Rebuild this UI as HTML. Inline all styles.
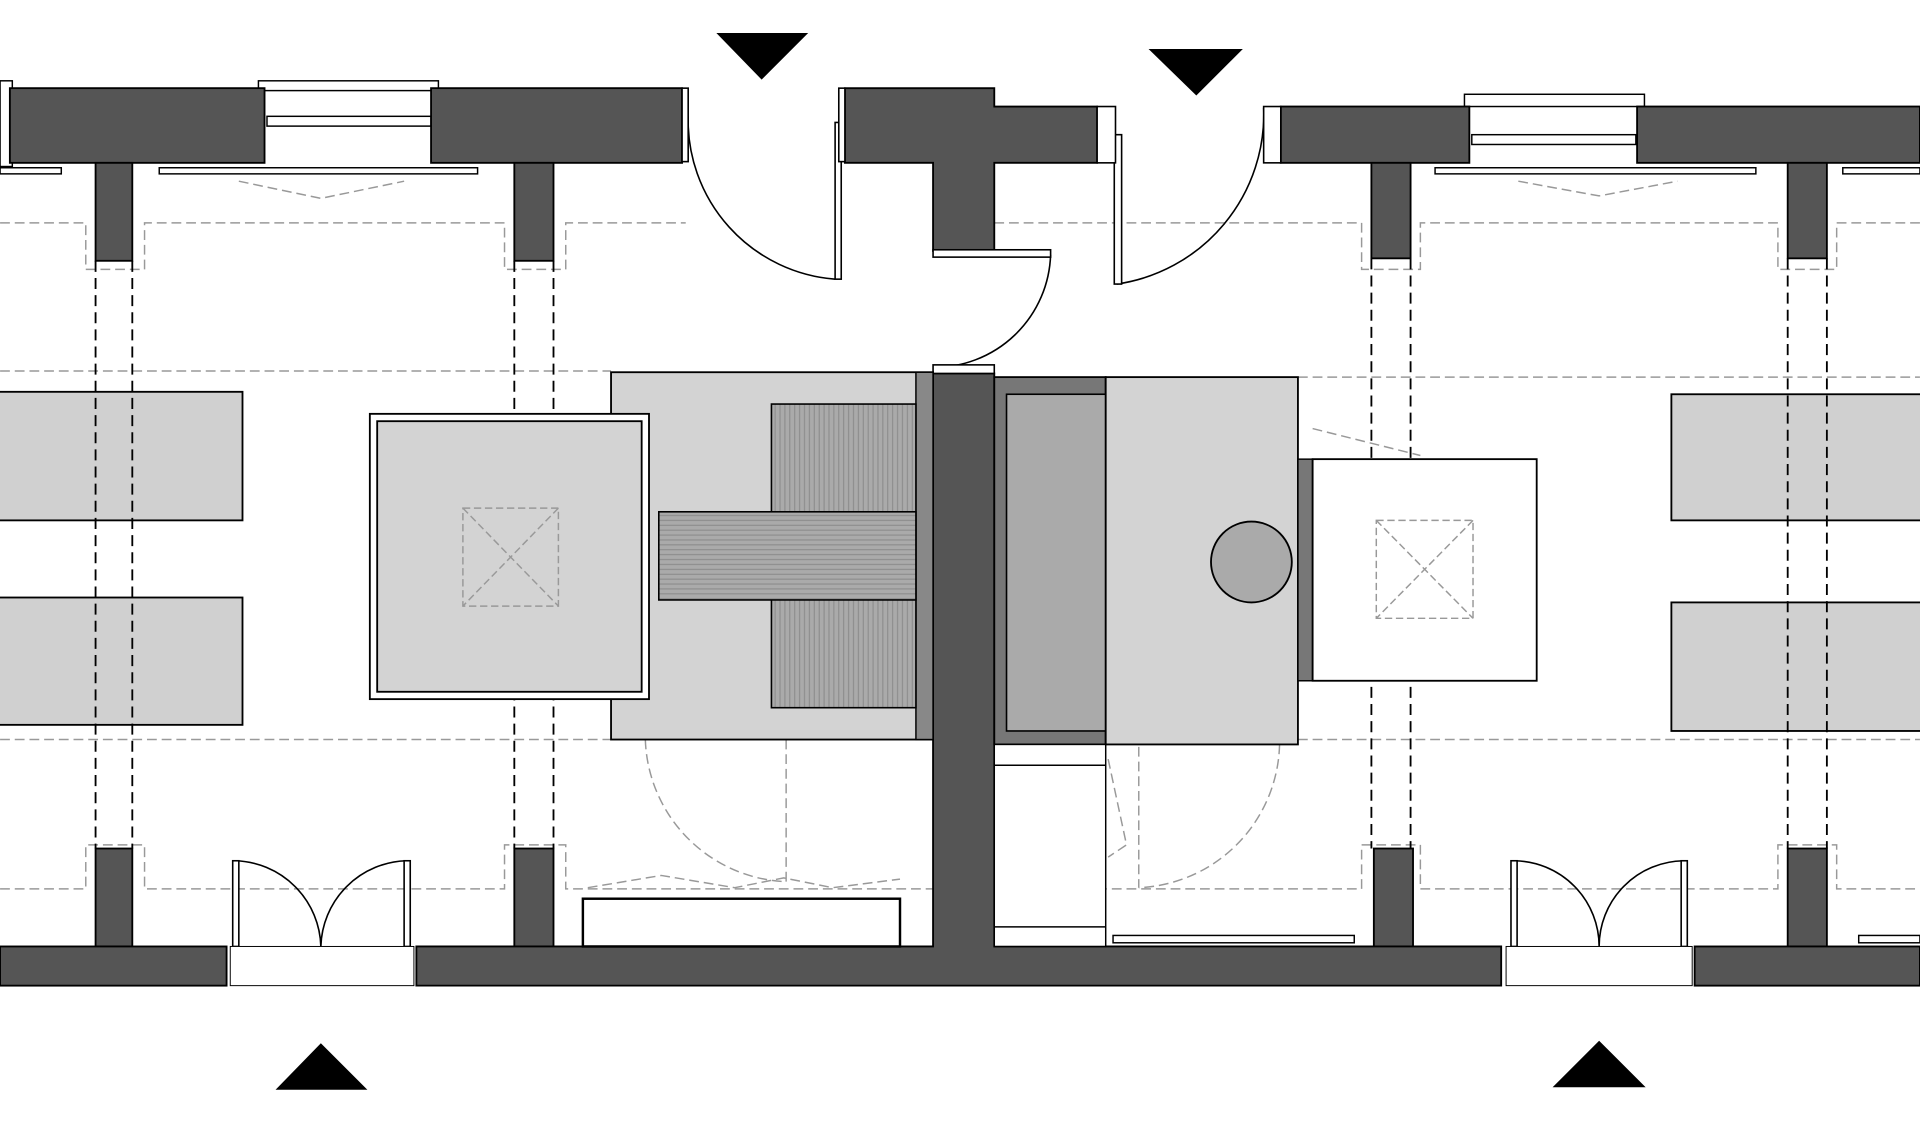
<!DOCTYPE html>
<html><head><meta charset="utf-8"><style>html,body{margin:0;padding:0;background:#fff}svg{display:block}</style></head>
<body>
<svg width="1920" height="1124" viewBox="0 0 1568 918" xmlns="http://www.w3.org/2000/svg">
<rect width="1568" height="918" fill="#fff"/>
<g stroke="#999" stroke-width="1.2" stroke-dasharray="8,4" fill="none">
<path d="M0 182H70V220H118V182H412V220H462V182H560M812 182H1112V220H1160V182H1452V220H1500V182H1568"/>
<path d="M0 303H499M1060 308H1568"/>
<path d="M0 604H499M1060 604H1568"/>
<path d="M0 726H70V690H118V726H412V690H462V726H762M812 726H1112V690H1160V726H1452V690H1500V726H1568"/>
<path d="M195 148L262 162L330 148M1240 148L1306 160L1370 148"/>
<path d="M480 725L540 715L600 725L640 717L680 725L735 718"/>
<path d="M527 604A120 120 0 0 0 640 720M642 604V720"/>
<path d="M1045 608A120 120 0 0 1 930 725M930 610V725"/>
<path d="M905 620L920 690L905 700M1072 350L1160 372"/>
</g>
<g fill="#fff" stroke="#000" stroke-width="1.2">
<rect x="211" y="66" width="147" height="8"/><rect x="218" y="95" width="134" height="8"/>
<rect x="1196" y="77" width="147" height="10"/><rect x="1202" y="110" width="134" height="8"/>
<rect x="0" y="66" width="10" height="70"/>
<rect x="0" y="137" width="50" height="5"/><rect x="130" y="137" width="260" height="5"/>
<rect x="1172" y="137" width="262" height="5"/><rect x="1505" y="137" width="63" height="5"/>
</g>
<g fill="#d0d0d0" stroke="#000" stroke-width="1.5">
<rect x="-2" y="320" width="200" height="105"/><rect x="-2" y="488" width="200" height="104"/>
<rect x="1365" y="322" width="205" height="103"/><rect x="1365" y="492" width="205" height="105"/>
</g>
<g stroke="#000" stroke-width="1.5" stroke-dasharray="9,5">
<path d="M78 213V693M108 213V693M420 213V693M452 213V693M1120 211V693M1152 211V693M1460 211V693M1492 211V693"/>
</g>
<g fill="#555" stroke="#000" stroke-width="1.5">
<rect x="8" y="72" width="208" height="61"/>
<rect x="352" y="72" width="205" height="61"/>
<path d="M690 72H812V87H896V133H812V205H762V133H690Z"/>
<rect x="1046" y="87" width="154" height="46"/>
<rect x="1337" y="87" width="231" height="46"/>
<rect x="78" y="133" width="30" height="80"/><rect x="420" y="133" width="32" height="80"/>
<rect x="1120" y="133" width="32" height="78"/><rect x="1460" y="133" width="32" height="78"/>
<rect x="78" y="693" width="30" height="80"/><rect x="420" y="693" width="32" height="80"/>
<rect x="1122" y="693" width="32" height="80"/><rect x="1460" y="693" width="32" height="80"/>
<rect x="0" y="773" width="185" height="32"/>
<path d="M762 305H812V773H1226V805H340V773H762Z"/>
<rect x="1384" y="773" width="184" height="32"/>
</g>
<g fill="none" stroke="#000" stroke-width="1.3">
<path d="M562 95A130 130 0 0 0 682 228"/><rect x="682" y="100" width="5" height="128" fill="#fff"/>
<rect x="557" y="72" width="5" height="60" fill="#fff"/><rect x="685" y="72" width="5" height="60" fill="#fff"/>
<path d="M858 208A95 95 0 0 1 762 300"/><rect x="762" y="204" width="96" height="6" fill="#fff"/>
<rect x="762" y="298" width="50" height="7" fill="#fff"/>
<path d="M1032 88A140 140 0 0 1 912 232"/><rect x="910" y="110" width="6" height="122" fill="#fff"/>
<rect x="896" y="87" width="15" height="46" fill="#fff"/><rect x="1032" y="87" width="14" height="46" fill="#fff"/>
<path d="M192 703A72 72 0 0 1 262 773M332 703A72 72 0 0 0 262 773"/>
<rect x="190" y="703" width="5" height="70" fill="#fff"/><rect x="330" y="703" width="5" height="70" fill="#fff"/>
<rect x="188" y="773" width="150" height="32" fill="#fff" stroke-width="0.8"/>
<path d="M1237 703A70 70 0 0 1 1306 773M1375 703A70 70 0 0 0 1306 773"/>
<rect x="1234" y="703" width="5" height="70" fill="#fff"/><rect x="1373" y="703" width="5" height="70" fill="#fff"/>
<rect x="1230" y="773" width="152" height="32" fill="#fff" stroke-width="0.8"/>
</g>
<rect x="499" y="304" width="263" height="300" fill="#d3d3d3" stroke="#000" stroke-width="1.5"/>
<rect x="748" y="304" width="14" height="300" fill="#888" stroke="#000" stroke-width="1.2"/>
<defs><pattern id="hv" width="4" height="4" patternUnits="userSpaceOnUse"><rect width="4" height="4" fill="#aaa"/><path d="M1 0V4" stroke="#888" stroke-width="0.8"/></pattern>
<pattern id="hh" width="4" height="4" patternUnits="userSpaceOnUse"><rect width="4" height="4" fill="#aaa"/><path d="M0 1H4" stroke="#888" stroke-width="0.8"/></pattern></defs>
<rect x="630" y="330" width="118" height="248" fill="url(#hv)" stroke="#000" stroke-width="1.3"/>
<rect x="302" y="338" width="228" height="233" fill="#fff" stroke="#000" stroke-width="1.5"/>
<rect x="308" y="344" width="216" height="221" fill="#d3d3d3" stroke="#000" stroke-width="1.5"/>
<rect x="538" y="418" width="210" height="72" fill="url(#hh)" stroke="#000" stroke-width="1.3"/>
<rect x="812" y="308" width="91" height="300" fill="#777" stroke="#000" stroke-width="1.5"/>
<rect x="822" y="322" width="81" height="275" fill="#aaa" stroke="#000" stroke-width="1.3"/>
<rect x="903" y="308" width="157" height="300" fill="#d3d3d3" stroke="#000" stroke-width="1.5"/>
<circle cx="1022" cy="459" r="33" fill="#aaa" stroke="#000" stroke-width="1.5"/>
<rect x="1060" y="375" width="12" height="181" fill="#777" stroke="#000" stroke-width="1.2"/>
<rect x="1072" y="375" width="183" height="181" fill="#fff" stroke="#000" stroke-width="1.5"/>
<g fill="none" stroke="#999" stroke-width="1.2" stroke-dasharray="6,3">
<rect x="378" y="415" width="78" height="80"/><path d="M378 415L456 495M456 415L378 495"/>
<rect x="1124" y="425" width="79" height="80"/><path d="M1124 425L1203 505M1203 425L1124 505"/>
</g>
<g fill="#fff" stroke="#000" stroke-width="1.2">
<rect x="812" y="608" width="91" height="165"/>
<path d="M812 625H903M812 757H903" fill="none"/>
<rect x="476" y="734" width="259" height="39" stroke-width="2"/>
<rect x="909" y="764" width="197" height="6"/>
<rect x="1518" y="764" width="50" height="6"/>
</g>
<g fill="#000">
<path d="M585 27H660L622 65Z"/><path d="M938 40H1015L977 78Z"/>
<path d="M225 890H300L262 852Z"/><path d="M1268 888H1344L1306 850Z"/>
</g>
</svg>
</body></html>
